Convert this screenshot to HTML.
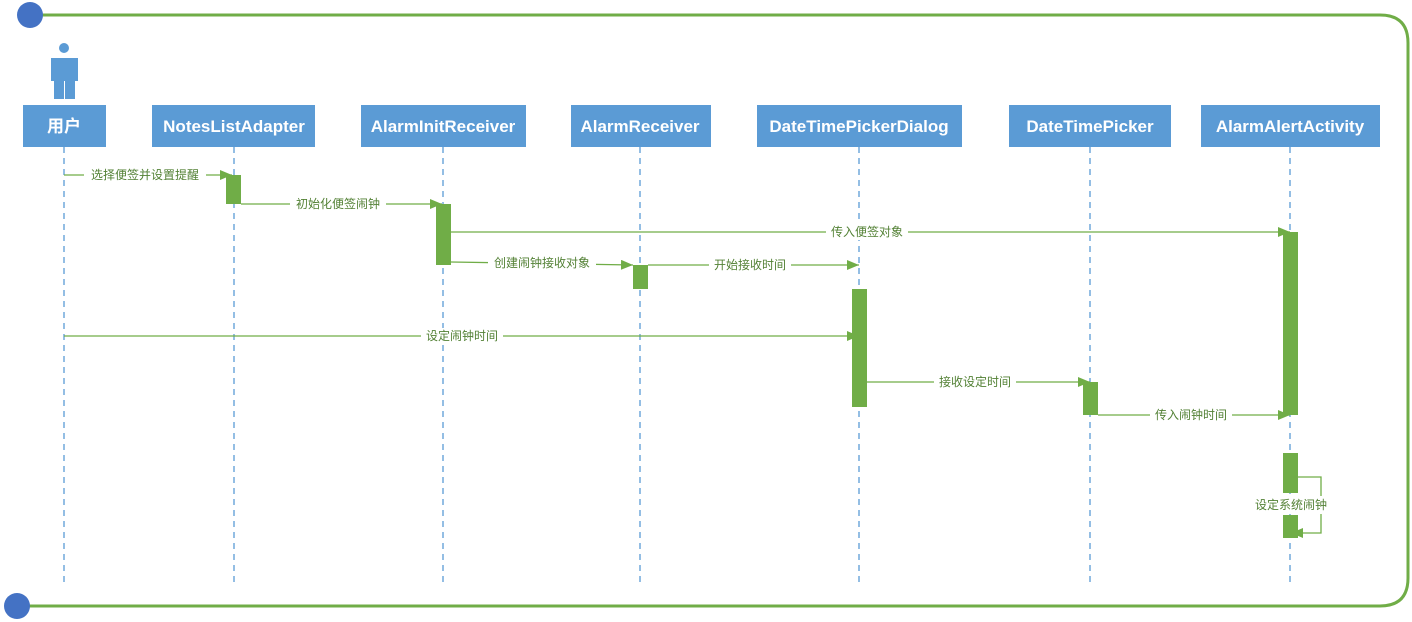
<!DOCTYPE html>
<html><head><meta charset="utf-8"><style>
html,body{margin:0;padding:0;background:#fff;width:1412px;height:622px;overflow:hidden}
svg text{font-family:"Liberation Sans","Noto Sans CJK SC",sans-serif}
.h{fill:#fff;font-size:17px;font-weight:bold;text-anchor:middle}
.l{fill:#538135;font-size:12px;text-anchor:middle}
</style></head><body>
<svg width="1412" height="622" xmlns="http://www.w3.org/2000/svg">
<defs><marker id="a" markerWidth="12" markerHeight="10" refX="12" refY="5" orient="auto" markerUnits="userSpaceOnUse"><path d="M0,0 L12,5 L0,10 Z" fill="#70ad47"/></marker></defs>
<path d="M40,15 H1380 Q1408,15 1408,43 V578 Q1408,606 1380,606 H25" fill="none" stroke="#70ad47" stroke-width="3"/>
<circle cx="30" cy="15" r="13" fill="#4472c4"/>
<circle cx="17" cy="606" r="13" fill="#4472c4"/>
<!-- actor -->
<circle cx="64" cy="48" r="5" fill="#5b9bd5"/>
<path d="M51,58 H78 V81 H75 V99 H65 V81 H64 V99 H54 V81 H51 Z" fill="#5b9bd5"/>
<g stroke="#5b9bd5" stroke-width="1.3" stroke-dasharray="6,5">
<line x1="64" y1="147" x2="64" y2="585"/><line x1="234" y1="147" x2="234" y2="585"/>
<line x1="443" y1="147" x2="443" y2="585"/><line x1="640" y1="147" x2="640" y2="585"/>
<line x1="859" y1="147" x2="859" y2="585"/><line x1="1090" y1="147" x2="1090" y2="585"/>
<line x1="1290" y1="147" x2="1290" y2="585"/></g>
<g fill="#5b9bd5">
<rect x="23" y="105" width="83" height="42"/><rect x="152" y="105" width="163" height="42"/>
<rect x="361" y="105" width="165" height="42"/><rect x="571" y="105" width="140" height="42"/>
<rect x="757" y="105" width="205" height="42"/><rect x="1009" y="105" width="162" height="42"/>
<rect x="1201" y="105" width="179" height="42"/></g>
<text class="h" x="64" y="132">用户</text><text class="h" x="234" y="132">NotesListAdapter</text>
<text class="h" x="443" y="132">AlarmInitReceiver</text><text class="h" x="640" y="132">AlarmReceiver</text>
<text class="h" x="859" y="132">DateTimePickerDialog</text><text class="h" x="1090" y="132">DateTimePicker</text>
<text class="h" x="1290" y="132">AlarmAlertActivity</text>
<g fill="#70ad47">
<rect x="226" y="175" width="15" height="29"/><rect x="436" y="204" width="15" height="61"/>
<rect x="633" y="265" width="15" height="24"/><rect x="852" y="289" width="15" height="118"/>
<rect x="1083" y="382" width="15" height="33"/><rect x="1283" y="232" width="15" height="183"/>
<rect x="1283" y="453" width="15" height="40"/><rect x="1283" y="515" width="15" height="23"/></g>
<g stroke="#70ad47" stroke-width="1.3" fill="none" marker-end="url(#a)">
<line x1="64" y1="175" x2="232" y2="175"/><line x1="241" y1="204" x2="442" y2="204"/>
<line x1="451" y1="232" x2="1290" y2="232"/><line x1="451" y1="262" x2="633" y2="265"/>
<line x1="648" y1="265" x2="859" y2="265"/><line x1="64" y1="336" x2="859" y2="336"/>
<line x1="867" y1="382" x2="1090" y2="382"/><line x1="1098" y1="415" x2="1290" y2="415"/>
<path d="M1290,477 H1321 V533 H1291"/></g>
<g class="l">
<rect x="84" y="167" width="122" height="16" fill="#fff"/><text class="l" x="145" y="179">选择便签并设置提醒</text>
<rect x="290" y="196" width="96" height="16" fill="#fff"/><text class="l" x="338" y="208">初始化便签闹钟</text>
<rect x="826" y="224" width="82" height="16" fill="#fff"/><text class="l" x="867" y="236">传入便签对象</text>
<rect x="488" y="255" width="108" height="16" fill="#fff"/><text class="l" x="542" y="267">创建闹钟接收对象</text>
<rect x="709" y="257" width="82" height="16" fill="#fff"/><text class="l" x="750" y="269">开始接收时间</text>
<rect x="421" y="328" width="82" height="16" fill="#fff"/><text class="l" x="462" y="340">设定闹钟时间</text>
<rect x="934" y="374" width="82" height="16" fill="#fff"/><text class="l" x="975" y="386">接收设定时间</text>
<rect x="1150" y="407" width="82" height="16" fill="#fff"/><text class="l" x="1191" y="419">传入闹钟时间</text>
<rect x="1250" y="496" width="82" height="18" fill="#fff"/><text class="l" x="1291" y="509">设定系统闹钟</text>
</g>
</svg>
</body></html>
